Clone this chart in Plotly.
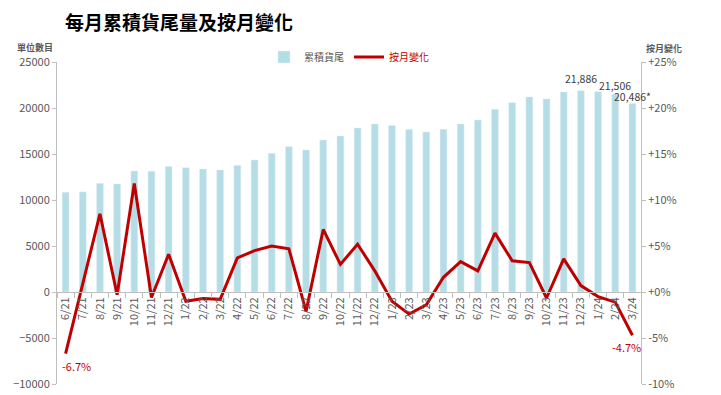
import plotly.graph_objects as go

months = ["6/21","7/21","8/21","9/21","10/21","11/21","12/21",
          "1/22","2/22","3/22","4/22","5/22","6/22","7/22","8/22","9/22","10/22","11/22","12/22",
          "1/23","2/23","3/23","4/23","5/23","6/23","7/23","8/23","9/23","10/23","11/23","12/23",
          "1/24","2/24","3/24"]
backlog = [10840, 10880, 11810, 11740, 13150, 13120, 13650,
           13510, 13370, 13260, 13770, 14350, 15070, 15800, 15440, 16520, 16960, 17830, 18260,
           18110, 17680, 17390, 17680, 18260, 18700, 19860, 20580, 21200, 20980, 21740, 21886,
           21770, 21506, 20486]
mom_pct = [-6.7, 0.9, 8.5, -0.3, 11.8, -0.6, 4.1,
           -1.0, -0.7, -0.8, 3.7, 4.5, 5.0, 4.7, -2.1, 6.8, 3.0, 5.2, 2.3,
           -1.0, -2.4, -1.4, 1.6, 3.3, 2.3, 6.4, 3.4, 3.2, -0.65, 3.6, 0.7,
           -0.5, -1.1, -4.7]
bar_label_months = ["12/23", "2/24", "3/24"]
bar_label_texts = ["21,886", "21,506", "20,486*"]
pct_ticks = [-10, -5, 0, 5, 10, 15, 20, 25]
pct_ticktext = ["-10%", "-5%", "+0%", "+5%", "+10%", "+15%", "+20%", "+25%"]

FONT = "Noto Sans CJK TC"
GRAY = "#595959"
RED = "#C00000"
BLUE = "#B4DDE6"

# page body has an 8px margin, so the figure starts at (8, 8) in the window
OFF = 8
W, H = 721 - OFF, 395 - OFF
L, R, T, B = 57 - OFF, 80, 62 - OFF, 11
PW, PH = W - L - R, H - T - B

fig = go.Figure()
fig.add_trace(go.Bar(
    x=months, y=backlog, name="累積貨尾", marker_color=BLUE, width=0.4,
))
fig.add_trace(go.Scatter(
    x=months, y=mom_pct, name="<span style='color:#C00000'>按月變化</span>",
    mode="lines", line=dict(color=RED, width=3), yaxis="y2",
))

fig.update_layout(
    width=W, height=H,
    margin=dict(l=L, r=R, t=T, b=B, autoexpand=False),
    paper_bgcolor="white", plot_bgcolor="white",
    font=dict(family=FONT, color=GRAY, size=11),
    showlegend=True,
    legend=dict(orientation="h", xref="container", yref="container",
                x=(349 - OFF)/W, xanchor="center", y=1 - (57 - OFF)/H, yanchor="middle",
                font=dict(size=10, color=GRAY), bgcolor="rgba(0,0,0,0)",
                itemwidth=30, tracegroupgap=0),
    title=dict(text="<b>每月累積貨尾量及按月變化</b>", x=(65 - OFF)/W, xanchor="left",
               y=1 - (23 - OFF)/H, yanchor="middle", font=dict(size=19, color="#000000", family=FONT)),
    xaxis=dict(
        type="category", range=[-0.5, len(months) - 0.5], autorange=False,
        anchor="free", position=10000/35000, automargin=False,
        showline=True, linecolor="#BFBFBF", linewidth=1,
        ticks="outside", tickson="boundaries", ticklen=5, tickcolor="#BFBFBF",
        tickangle=-90, tickfont=dict(size=11, color=GRAY), showgrid=False, zeroline=False,
    ),
    yaxis=dict(
        range=[-10000, 25000], autorange=False, dtick=5000, tickformat="d", automargin=False,
        showline=True, linecolor="#BFBFBF", ticks="outside", ticklen=4, tickcolor="#BFBFBF",
        showgrid=False, zeroline=False, tickfont=dict(size=11, color=GRAY),
    ),
    yaxis2=dict(
        range=[-10, 25], autorange=False, overlaying="y", side="right", automargin=False,
        tickvals=pct_ticks, ticktext=pct_ticktext,
        showline=True, linecolor="#BFBFBF", ticks="outside", ticklen=4, tickcolor="#BFBFBF",
        showgrid=False, zeroline=False, tickfont=dict(size=11, color=GRAY),
    ),
    bargap=0.5,
)

# value labels above selected bars
label_shifts = [12, 9, 7]
for m, t, s in zip(bar_label_months, bar_label_texts, label_shifts):
    fig.add_annotation(text=t, x=m, y=backlog[months.index(m)], xref="x", yref="y",
                       xanchor="center", yanchor="middle", yshift=s, showarrow=False,
                       font=dict(size=10.5, color="#404040"))

fig.add_annotation(text="<b>單位數目</b>", xref="paper", yref="paper",
                   x=(35 - 57)/PW, y=1 + 15/PH, xanchor="center", yanchor="middle",
                   showarrow=False, font=dict(size=9, color=GRAY))
fig.add_annotation(text="<b>按月變化</b>", xref="paper", yref="paper",
                   x=(664 - 57)/PW, y=1 + 14/PH, xanchor="center", yanchor="middle",
                   showarrow=False, font=dict(size=9, color=GRAY))
fig.add_annotation(text="-6.7%", x=months[0], y=mom_pct[0], xref="x", yref="y2",
                   xanchor="left", yanchor="top", xshift=-6, yshift=-2, showarrow=False,
                   font=dict(size=11, color=RED))
fig.add_annotation(text="-4.7%", x=months[-1], y=mom_pct[-1], xref="x", yref="y2",
                   xanchor="center", yanchor="top", xshift=-6, yshift=-2, showarrow=False,
                   font=dict(size=11, color=RED))

fig.write_html("out.html")
